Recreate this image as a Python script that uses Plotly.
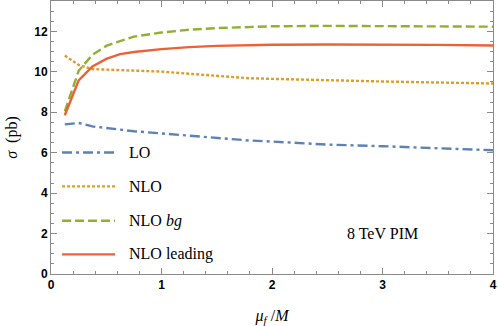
import plotly.graph_objects as go

# scale ratio mu_f / M
mu = [0.125, 0.25, 0.375, 0.5, 0.625, 0.75, 1.0, 1.25, 1.5, 1.8, 2.0, 2.5, 3.0, 3.5, 4.0]

# cross sections (pb)
lo =          [7.40, 7.47, 7.30, 7.22, 7.14, 7.06, 6.95, 6.84, 6.74, 6.60, 6.55, 6.40, 6.32, 6.22, 6.12]
nlo =         [10.80, 10.34, 10.13, 10.10, 10.07, 10.05, 10.01, 9.90, 9.80, 9.68, 9.65, 9.57, 9.52, 9.47, 9.42]
nlo_bg =      [8.04, 10.05, 10.84, 11.28, 11.52, 11.74, 11.94, 12.08, 12.16, 12.23, 12.25, 12.27, 12.26, 12.25, 12.23]
nlo_leading = [7.85, 9.57, 10.26, 10.64, 10.87, 10.98, 11.12, 11.22, 11.28, 11.33, 11.34, 11.35, 11.35, 11.33, 11.30]

labels = ["LO", "NLO", "NLO <i>bg</i>", "NLO leading"]
series = [lo, nlo, nlo_bg, nlo_leading]
colors = ["#5E81B5", "#E19C24", "#8FB032", "#EB6235"]
dashes = ["10px,4px,3px,4px", "3px,2px", "9px,4px", "solid"]

fig = go.Figure()
for lab, ys, c, d in zip(labels, series, colors, dashes):
    fig.add_trace(go.Scatter(x=mu, y=ys, mode="lines", name=lab,
                             line=dict(color=c, width=2.4, dash=d), showlegend=False))

# hand-made legend in the Mathematica style (long line samples)
leg_y = [0.445, 0.321, 0.195, 0.072]
for lab, c, d, yy in zip(labels, colors, dashes, leg_y):
    fig.add_shape(type="line", xref="paper", yref="paper", x0=0.025, x1=0.145, y0=yy, y1=yy,
                  line=dict(color=c, width=2.4, dash=d))
    fig.add_annotation(xref="paper", yref="paper", x=0.172, y=yy, text=lab, showarrow=False,
                       xanchor="left", yanchor="middle",
                       font=dict(family="Liberation Serif", size=16, color="black"))

fig.add_annotation(x=3, y=2, text="8 TeV PIM", showarrow=False,
                   font=dict(family="Liberation Serif", size=16, color="black"))

frame = "#8a8a8a"
tickfont = dict(family="Liberation Sans", size=12, color="black")
fig.update_xaxes(range=[0, 4], tickvals=[0, 1, 2, 3, 4], ticktext=["<b>%d</b>" % v for v in [0, 1, 2, 3, 4]],
                 ticks="inside", ticklen=6, tickcolor=frame, showline=True, linecolor=frame, linewidth=1,
                 mirror="ticks", showgrid=False, zeroline=False, tickfont=tickfont, automargin=False,
                 minor=dict(dtick=0.2, ticks="inside", ticklen=3, tickcolor=frame, showgrid=False),
                 title=dict(text="<i>μ<sub>f</sub></i> /<i>M</i>", standoff=22,
                            font=dict(family="Liberation Serif", size=16, color="black")))
fig.update_yaxes(range=[0, 13.5], tickvals=[0, 2, 4, 6, 8, 10, 12],
                 ticktext=["<b>%d</b>" % v for v in [0, 2, 4, 6, 8, 10, 12]],
                 ticks="inside", ticklen=6, tickcolor=frame, showline=True, linecolor=frame, linewidth=1,
                 mirror="ticks", showgrid=False, zeroline=False, tickfont=tickfont, automargin=False,
                 minor=dict(dtick=0.5, ticks="inside", ticklen=3, tickcolor=frame, showgrid=False),
                 title=dict(text="<i>σ</i>  (pb)", standoff=12,
                            font=dict(family="Liberation Serif", size=16, color="black")))

fig.update_layout(width=498, height=326, margin=dict(l=51, r=5, t=1, b=52),
                  plot_bgcolor="white", paper_bgcolor="white")
# page body has a default 8px margin; drop it so the figure fills the window
fig.write_html("out.html", config={"displayModeBar": False},
               post_script="document.body.style.margin='0px';")
